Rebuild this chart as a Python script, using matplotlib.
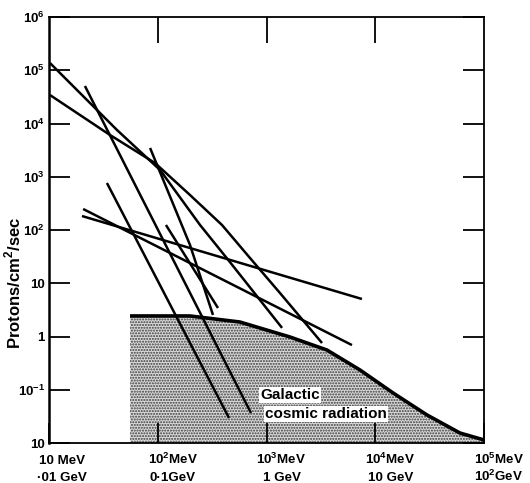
import matplotlib
matplotlib.use('Agg')
import matplotlib.pyplot as plt
from matplotlib.ticker import NullLocator
from matplotlib.transforms import ScaledTranslation

plt.rcParams['font.family'] = ['Liberation Sans', 'DejaVu Sans']
plt.rcParams['mathtext.fontset'] = 'custom'
plt.rcParams['mathtext.rm'] = 'Liberation Sans'
plt.rcParams['mathtext.bf'] = 'Liberation Sans:bold'
plt.rcParams['hatch.linewidth'] = 1.0

# ---- data (energy in MeV, flux in protons/cm^2/sec) ----
energy_a = [10.2, 42.2, 105, 245, 461, 1390]
flux_a = [1.37e5, 7550, 1340, 124, 25, 1.45]

energy_b = [10.2, 36.4, 94.4, 198, 390, 705, 1330, 3240]
flux_b = [34300, 6080, 1810, 454, 124, 29.8, 6.56, 0.755]

energy_c = [21.4, 720]
flux_c = [50600, 0.0366]

energy_d = [34.1, 452]
flux_d = [764, 0.0295]

energy_e = [119, 358]
flux_e = [124, 3.43]

energy_f = [85, 198, 322]
flux_f = [3470, 52.2, 2.54]

energy_g = [20.1, 7550]
flux_g = [183, 5.06]

energy_h = [20.6, 6110]
flux_h = [248, 0.69]

gcr_energy = [55.6, 198, 570, 1640, 3600, 7240, 14600, 29900, 60100, 100000]
gcr_flux = [2.43, 2.43, 1.87, 0.98, 0.557, 0.235, 0.0869, 0.0336, 0.0154, 0.0114]

x_ticks = [1e1, 1e2, 1e3, 1e4, 1e5]
x_labels_mev = ['10 MeV',
                '10$^{\\mathbf{2}}$MeV',
                '10$^{\\mathbf{3}}$MeV',
                '10$^{\\mathbf{4}}$MeV',
                '10$^{\\mathbf{5}}$MeV']
x_labels_gev = ['·01 GeV', '0·1GeV', '1 GeV', '10 GeV',
                '10$^{\\mathbf{2}}$GeV']
inner_x_ticks = [1e2, 1e3, 1e4]
y_ticks = [1e-2, 1e-1, 1e0, 1e1, 1e2, 1e3, 1e4, 1e5, 1e6]
y_labels = ['10', '10$^{\\mathbf{-1}}$', '1', '10',
            '10$^{\\mathbf{2}}$', '10$^{\\mathbf{3}}$', '10$^{\\mathbf{4}}$',
            '10$^{\\mathbf{5}}$', '10$^{\\mathbf{6}}$']

fig = plt.figure(figsize=(5.3, 4.83), dpi=100)
ax = fig.add_axes([49 / 530, 40 / 483, 435 / 530, 426 / 483])
ax.set_xscale('log')
ax.set_yscale('log')
ax.set_xlim(10, 1e5)
ax.set_ylim(1e-2, 1e6)

ax.fill_between(gcr_energy, 1e-2, gcr_flux, facecolor='#dadada',
                edgecolor='#3a3a3a', hatch='......', linewidth=0, zorder=1)
ax.plot(gcr_energy, gcr_flux, color='black', lw=2.6, zorder=3,
        solid_capstyle='butt')

for e, f in [(energy_a, flux_a), (energy_b, flux_b), (energy_c, flux_c),
             (energy_d, flux_d), (energy_e, flux_e), (energy_f, flux_f),
             (energy_g, flux_g), (energy_h, flux_h)]:
    ax.plot(e, f, color='black', lw=1.8, zorder=2, solid_capstyle='butt',
            solid_joinstyle='round')

ax.text(871, 0.0796, 'Galactic', ha='left', va='center', fontsize=11,
        fontweight='bold', zorder=4,
        bbox=dict(facecolor='white', edgecolor='none', pad=1.0))
ax.text(968, 0.0351, 'cosmic radiation', ha='left', va='center', fontsize=11,
        fontweight='bold', zorder=4,
        bbox=dict(facecolor='white', edgecolor='none', pad=1.0))

ax.set_xticks(x_ticks)
ax.set_xticklabels(x_labels_mev)
ax.set_yticks(y_ticks)
ax.set_yticklabels(y_labels)
ax.xaxis.set_minor_locator(NullLocator())
ax.yaxis.set_minor_locator(NullLocator())
ax.tick_params(axis='x', direction='in', length=14.5, width=1.3, top=False,
               pad=15.0, labelsize=9.6)
ax.tick_params(axis='y', direction='in', length=15, width=1.3, right=True,
               pad=3, labelsize=9.5)

# longer inward ticks along the top edge
top = ax.secondary_xaxis('top')
top.set_xticks(inner_x_ticks)
top.set_xticklabels([])
top.xaxis.set_minor_locator(NullLocator())
top.tick_params(axis='x', direction='in', length=19, width=1.3)
top.spines['top'].set_visible(False)

# second row of x labels (GeV)
sec = ax.secondary_xaxis('bottom')
sec.set_xticks(x_ticks)
sec.set_xticklabels(x_labels_gev)
sec.xaxis.set_minor_locator(NullLocator())
sec.tick_params(axis='x', length=0, pad=27.3, labelsize=9.6)
sec.spines['bottom'].set_visible(False)

shift = ScaledTranslation(-10 / 100, 0, fig.dpi_scale_trans)
for labs in (ax.get_xticklabels(), sec.get_xticklabels()):
    for lab in labs:
        lab.set_fontweight('bold')
        lab.set_verticalalignment('baseline')
        lab.set_horizontalalignment('left')
        lab.set_transform(lab.get_transform() + shift)
for lab in ax.get_yticklabels():
    lab.set_fontweight('bold')

# centre the GeV row under the MeV row
fig.canvas.draw()
r = fig.canvas.get_renderer()
for t_lab, b_lab in zip(ax.get_xticklabels(), sec.get_xticklabels()):
    wt = t_lab.get_window_extent(r).width
    wb = b_lab.get_window_extent(r).width
    dx = (wt - wb) / 2 / fig.dpi
    b_lab.set_transform(b_lab.get_transform() +
                        ScaledTranslation(dx, 0, fig.dpi_scale_trans))

for s in ax.spines.values():
    s.set_linewidth(1.3)
ax.spines['left'].set_linewidth(1.8)

ax.set_ylabel('Protons/cm$^{\\mathbf{2}}$/sec', fontsize=12,
              fontweight='bold', va='center')
ax.yaxis.set_label_coords(-0.082, 0.376)

fig.savefig('out.png', dpi=100)
